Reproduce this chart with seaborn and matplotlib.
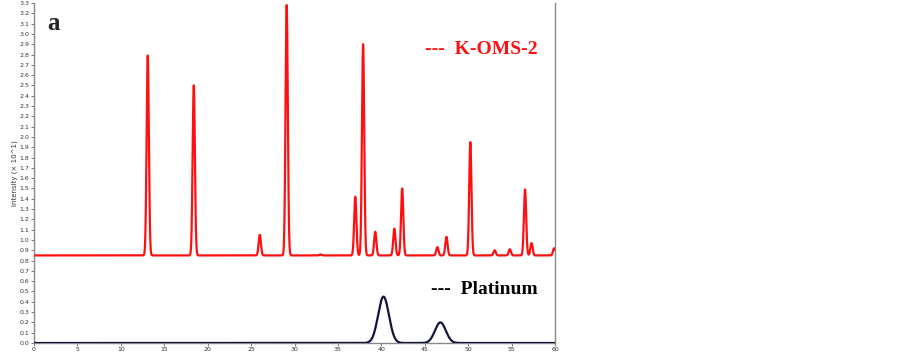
import numpy as np
import pandas as pd
import seaborn as sns
import matplotlib.pyplot as plt

# K-OMS-2 reflections (2theta, peak top in units of 10^1)
koms_pos = [13.1, 18.4, 26.0, 29.1, 33.0, 37.0, 37.9, 39.3, 41.5, 42.4,
            46.45, 47.5, 50.25, 53.05, 54.8, 56.55, 57.3, 59.9]
koms_top = [2.79, 2.50, 1.05, 3.28, 0.86, 1.42, 2.90, 1.08, 1.11, 1.50,
            0.93, 1.03, 1.95, 0.90, 0.91, 1.49, 0.97, 0.92]
koms_base = 0.85

# Platinum reflections
pt_pos = [40.25, 46.8]
pt_top = [0.45, 0.20]

x = np.linspace(0, 60, 6001)
koms_y = np.full_like(x, koms_base)
for p, h in zip(koms_pos, koms_top):
    koms_y += (h - koms_base) * np.exp(-0.5 * ((x - p) / 0.13) ** 2)
pt_y = np.zeros_like(x)
for p, h in zip(pt_pos, pt_top):
    pt_y += h * np.exp(-0.5 * ((x - p) / 0.62) ** 2)

df = pd.DataFrame({"2theta": np.concatenate([x, x]),
                   "I": np.concatenate([koms_y, pt_y]),
                   "sample": ["K-OMS-2"] * len(x) + ["Platinum"] * len(x)})

sns.set_style("white")
fig = plt.figure(figsize=(9.03, 3.54), dpi=100)
ax = fig.add_axes([34 / 903, 11 / 354, 521 / 903, 340 / 354])
sns.lineplot(data=df, x="2theta", y="I", hue="sample",
             palette={"K-OMS-2": "#ff1010", "Platinum": "#141442"},
             linewidth=1.6, legend=False, ax=ax, zorder=3)

ax.set_xlim(0, 60)
ax.set_ylim(0, 3.3)
ax.set_xticks(np.arange(0, 61, 5))
ax.set_yticks(np.round(np.arange(0, 3.31, 0.1), 1))
ax.set_yticklabels([f"{v:.1f}" for v in np.arange(0, 3.31, 0.1)])
ax.tick_params(labelsize=4.5, length=2.5, width=0.6, color="#666666",
               labelcolor="#333333", pad=1, left=True, bottom=True)
ax.tick_params(axis="x", pad=0.5)
ax.set_xlabel("")
ax.set_ylabel("Intensity (× 10^1)", fontsize=5, color="#333333", labelpad=1)
for s in ["left", "right", "bottom"]:
    ax.spines[s].set_color("#888888")
    ax.spines[s].set_linewidth(1)
ax.spines["top"].set_visible(False)

fig.text(47 / 903, 1 - 24 / 354, "a", family="Liberation Serif",
         fontweight="bold", fontsize=18, va="center", ha="left")
fig.text(538 / 903, 1 - 49 / 354, "---  K-OMS-2", family="Liberation Serif",
         fontweight="bold", fontsize=14, color="#ff1010", va="center", ha="right")
fig.text(538 / 903, 1 - 289 / 354, "---  Platinum", family="Liberation Serif",
         fontweight="bold", fontsize=14, color="black", va="center", ha="right")

fig.savefig("out.png", dpi=100)
